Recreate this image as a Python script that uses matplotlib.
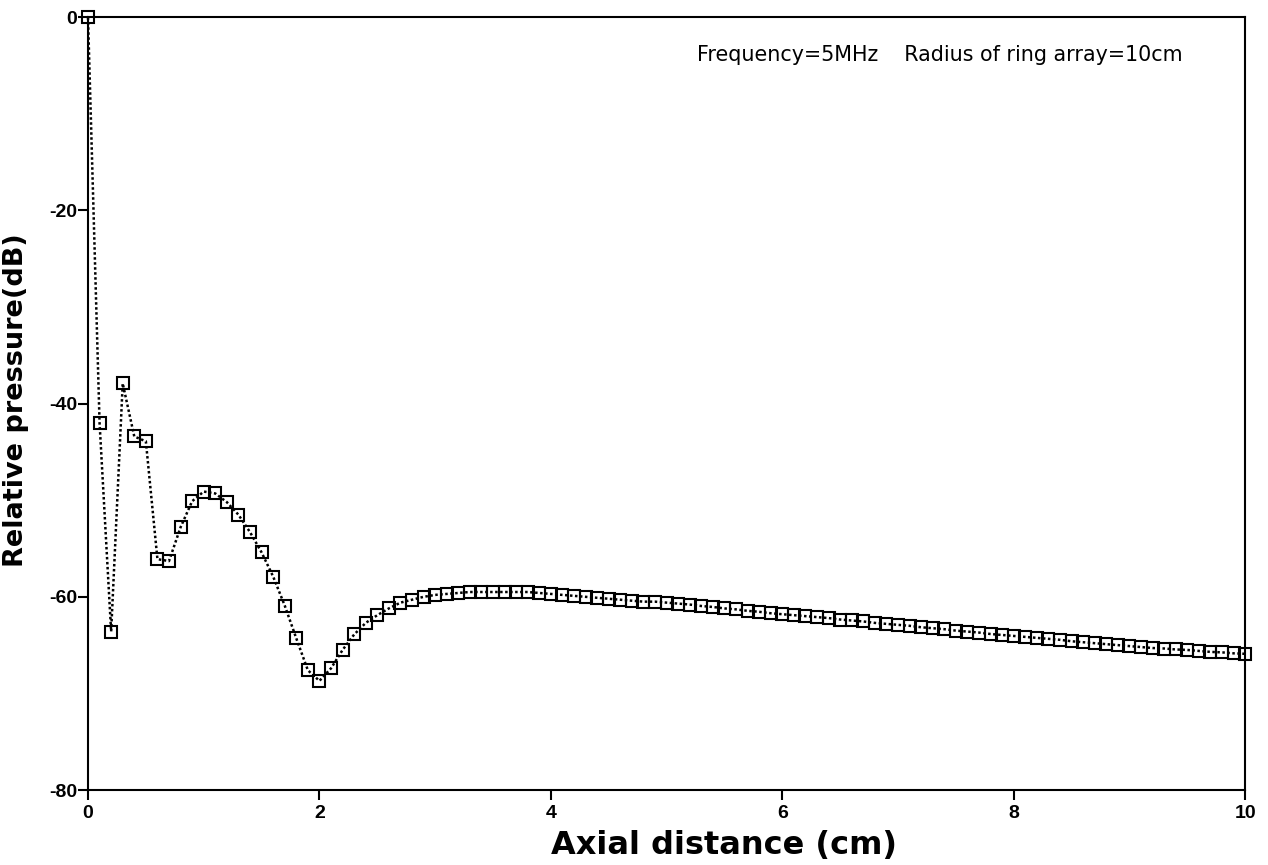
import numpy as np
import matplotlib
matplotlib.use("Agg")
import matplotlib.pyplot as plt

# axial distance (cm), one sample every 0.1 cm
distance = np.round(np.arange(0, 101) * 0.1, 1)

# relative pressure (dB)
pressure = [
    0.0, -42.0, -63.6, -37.9, -43.4, -43.9, -56.1, -56.3, -52.8, -50.1,
    -49.1, -49.3, -50.2, -51.5, -53.3, -55.4, -57.9, -60.9, -64.3, -67.6,
    -68.7, -67.4, -65.5, -63.9, -62.7, -61.9, -61.2, -60.6, -60.3, -60.0,
    -59.8, -59.7, -59.6, -59.5, -59.5, -59.5, -59.5, -59.5, -59.5, -59.6,
    -59.7, -59.8, -59.9, -60.0, -60.1, -60.2, -60.3, -60.4, -60.5, -60.5,
    -60.6, -60.7, -60.8, -60.95, -61.05, -61.2, -61.3, -61.45, -61.55, -61.7,
    -61.8, -61.9, -62.0, -62.1, -62.2, -62.35, -62.45, -62.55, -62.7, -62.8,
    -62.9, -63.0, -63.15, -63.25, -63.35, -63.5, -63.6, -63.7, -63.85, -63.95,
    -64.05, -64.15, -64.25, -64.35, -64.45, -64.6, -64.7, -64.8, -64.9, -65.0,
    -65.1, -65.2, -65.3, -65.35, -65.45, -65.5, -65.6, -65.7, -65.75, -65.85,
    -65.9,
]

xticks = [0, 2, 4, 6, 8, 10]
yticks = [0, -20, -40, -60, -80]
note = "Frequency=5MHz    Radius of ring array=10cm"

fig = plt.figure(figsize=(12.68, 8.65), dpi=100)
ax = fig.add_axes([0.0694, 0.0867, 0.9126, 0.8933])

ax.plot(distance, pressure, color="black", linestyle=(0, (1, 1)), linewidth=1.8,
        marker="s", markersize=8.5, markerfacecolor="none",
        markeredgecolor="black", markeredgewidth=1.5, clip_on=False, zorder=3)

ax.set_xlim(0, 10)
ax.set_ylim(-80, 0)
ax.set_xticks(xticks)
ax.set_yticks(yticks)
ax.set_xticklabels([str(t) for t in xticks], family="Liberation Sans",
                   fontweight="bold", fontsize=14)
ax.set_yticklabels([str(t) for t in yticks], family="Liberation Sans",
                   fontweight="bold", fontsize=14)
ax.tick_params(axis="both", direction="out", length=7, width=1.5)
ax.tick_params(axis="y", pad=1)
ax.tick_params(axis="x", pad=4)

for s in ax.spines.values():
    s.set_linewidth(1.5)

ax.set_xlabel("Axial distance (cm)", family="DejaVu Sans", fontweight="bold",
              fontsize=23)
ax.set_ylabel("Relative pressure(dB)", family="DejaVu Sans", fontweight="bold",
              fontsize=19.5)
ax.xaxis.set_label_coords(0.55, -0.052)
ax.yaxis.set_label_coords(-0.051, 0.505)

ax.text(5.26, -3.9, note, family="DejaVu Sans", fontsize=14.9,
        ha="left", va="center")

fig.savefig("out.png", dpi=100)
